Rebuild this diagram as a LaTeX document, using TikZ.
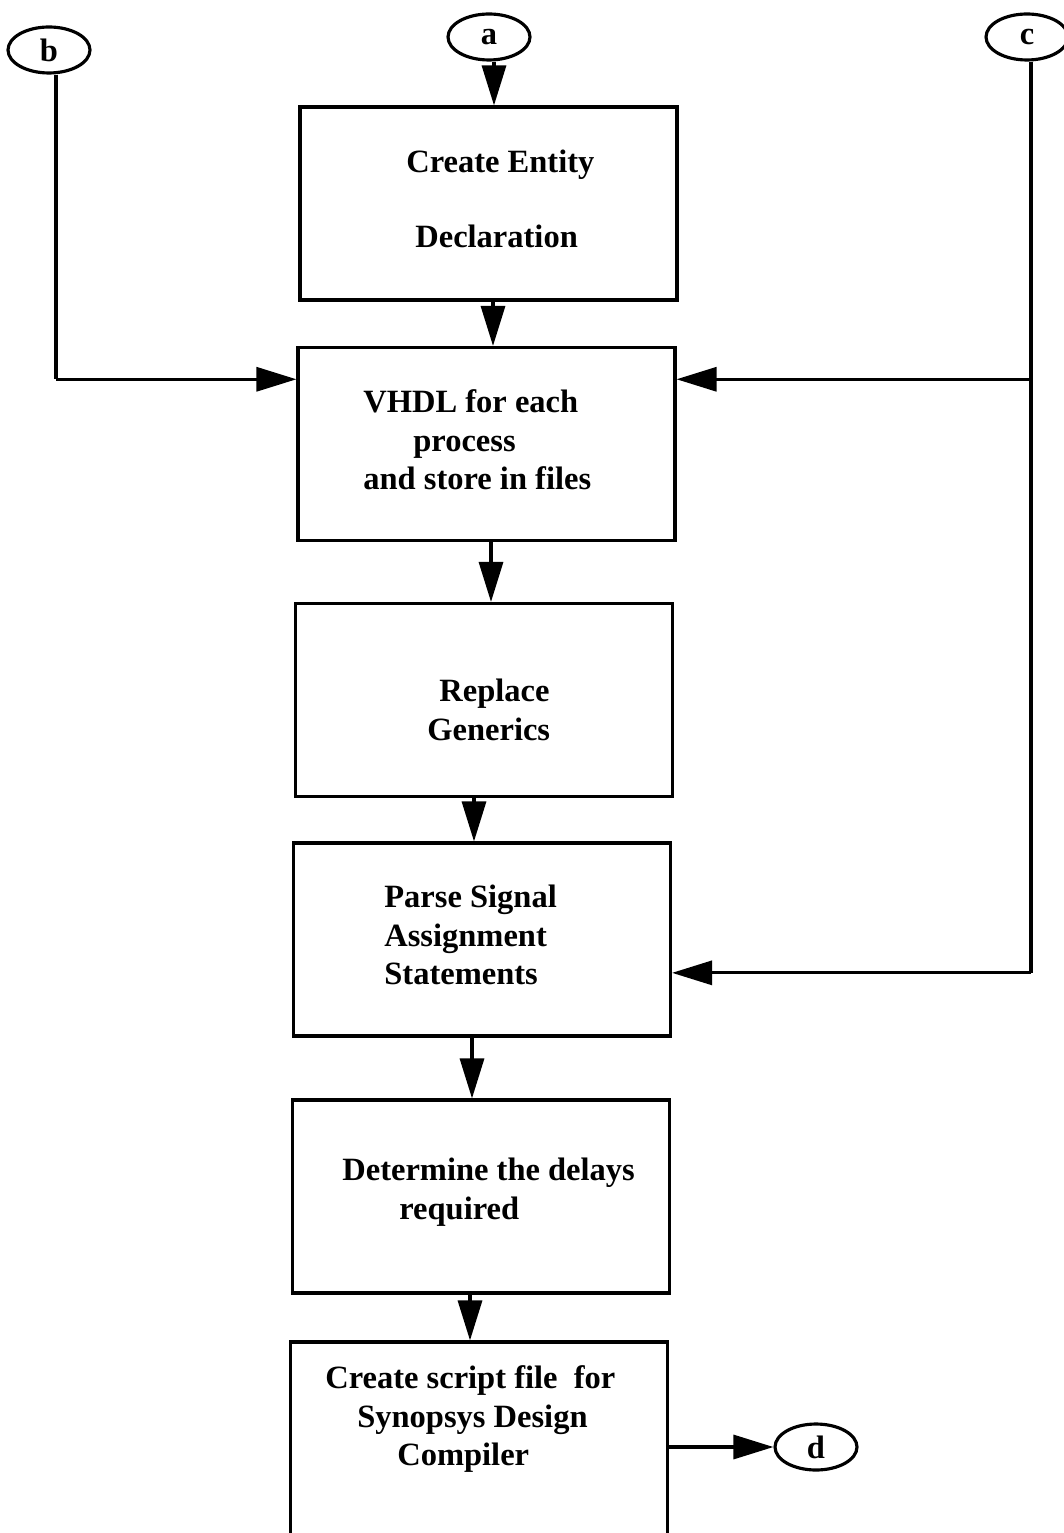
\documentclass[tikz,border=0pt]{standalone}
\usepackage{fontspec}
\setmainfont{Liberation Serif}
\usetikzlibrary{arrows.meta,shapes.geometric,calc}
\begin{document}
\begin{tikzpicture}[x=0.02cm,y=-0.02cm,
  stepbox/.style={draw,line width=1.8pt,minimum width=7.54cm,minimum height=3.86cm,inner sep=0pt},
  term/.style={draw,ellipse,line width=1.8pt,minimum width=1.64cm,minimum height=0.92cm,inner sep=0pt,font=\fontsize{18.5}{22}\selectfont\bfseries},
  label/.style={inner sep=0pt,align=left,anchor=west,font=\fontsize{18.5}{22}\selectfont\bfseries},
  link/.style={line width=1.8pt},
  arr/.style={line width=1.8pt,-{Triangle[length=0.8cm,width=0.48cm]}}]
\useasboundingbox[fill=white] (0,0) rectangle (1063,1533);

% off-page connectors
\node[term] (a) at (489,37) {a};
\node[term] (b) at (49,50) {b};
\node[term] (c) at (1027,37) {c};
\node[term] (d) at (816,1447) {d};

% process boxes
\node[stepbox] (s1) at (488.5,203.5) {};
\node[stepbox] (s2) at (486.5,444) {};
\node[stepbox] (s3) at (484,700) {};
\node[stepbox] (s4) at (482,939.5) {};
\node[stepbox] (s5) at (481,1196.5) {};
\node[stepbox,minimum height=3.96cm] (s6) at (479,1441) {};

% box texts
\node[label] (t1) at (406,199) {Create Entity\\[21pt]\hspace*{0.18cm}Declaration};
\node[label] (t2) at (363,440) {VHDL for each\\\hspace*{1.0cm}process\\and store in files};
\node[label] (t3) at (427,710) {\hspace*{0.24cm}Replace\\Generics};
\node[label] (t4) at (384,935) {Parse Signal\\Assignment\\Statements};
\node[label] (t5) at (342,1192) {Determine the delays\\\hspace*{1.14cm}required};
\node[label] (t6) at (325,1419) {Create script file\ \ for\\\hspace*{0.64cm}Synopsys Design\\\hspace*{1.44cm}Compiler};

% main flow
\coordinate (p0) at ($(a.south)+(5,0)$);
\draw[arr] (p0) -- (p0 |- s1.north);
\coordinate (p1) at ($(s1.south)+(4.5,0)$);
\draw[arr] (p1) -- (p1 |- s2.north);
\coordinate (p2) at ($(s2.south)+(4.5,0)$);
\draw[arr] (p2) -- (p2 |- s3.north);
\coordinate (p3) at ($(s3.south)+(-10,0)$);
\draw[arr] (p3) -- (p3 |- s4.north);
\coordinate (p4) at ($(s4.south)+(-10,0)$);
\draw[arr] (p4) -- (p4 |- s5.north);
\coordinate (p5) at ($(s5.south)+(-11,0)$);
\draw[arr] (p5) -- (p5 |- s6.north);

% side entries
\coordinate (in2l) at ($(s2.north west)!0.17!(s2.south west)$);
\coordinate (in2r) at ($(s2.north east)!0.17!(s2.south east)$);
\coordinate (in4r) at ($(s4.north east)!0.67!(s4.south east)$);
\coordinate (bx) at ($(b.south)+(7,0)$);
\draw[link] (bx) -- (bx |- in2l);
\draw[arr] (bx |- in2l) -- (in2l);
\coordinate (cx) at ($(c.south)+(4,0)$);
\draw[link] (cx) -- (cx |- in4r);
\draw[arr] (cx |- in4r) -- (in4r);
\draw[arr] (cx |- in2r) -- (in2r);

% exit
\draw[arr] (s6.east |- d.west) -- (d.west);
\end{tikzpicture}
\end{document}
